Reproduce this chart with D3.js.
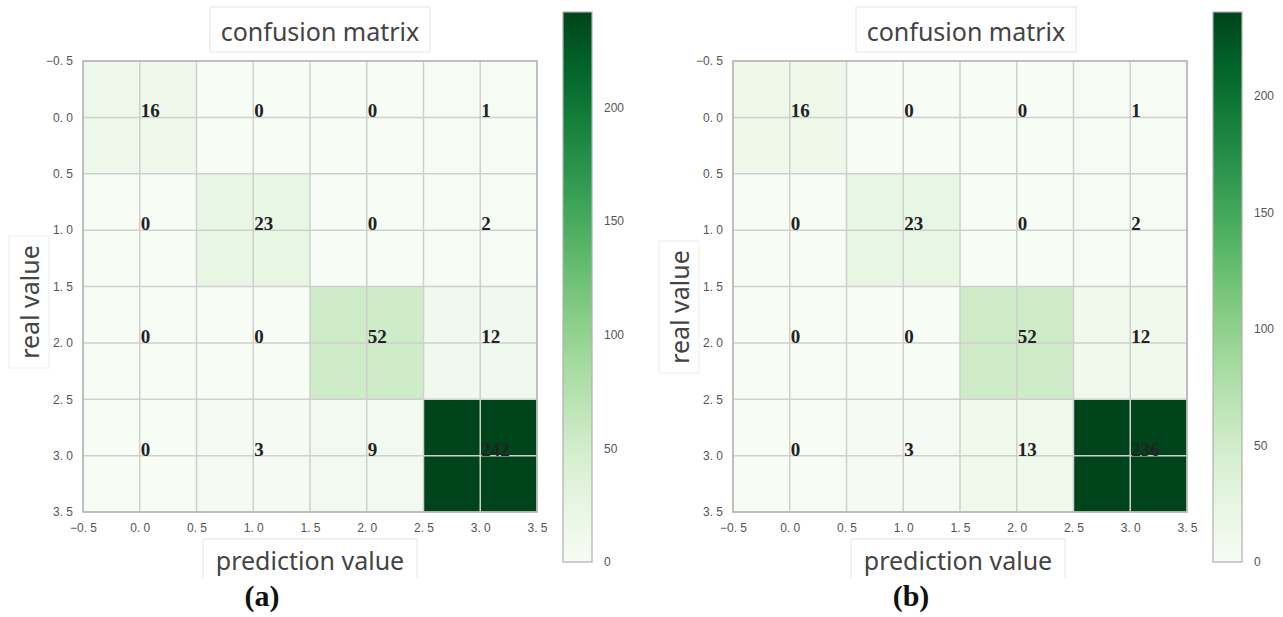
<!DOCTYPE html>
<html><head><meta charset="utf-8">
<script src="https://cdn.jsdelivr.net/npm/d3@7"></script>
<style>body{margin:0;background:#fff}</style>
</head><body>
<svg id="c" width="1283" height="617"></svg>
<script>
const labels = ["0", "1", "2", "3"];
const matrixA = [[16,0,0,1],[0,23,0,2],[0,0,52,12],[0,3,9,242]];
const matrixB = [[16,0,0,1],[0,23,0,2],[0,0,52,12],[0,3,13,236]];
const tickValues = [-0.5,0,0.5,1,1.5,2,2.5,3,3.5];
const cbTicks = [0,50,100,150,200];
const panelLabels = ["(a)", "(b)"];

const svg = d3.select("#c");
const panels = [
  {m: matrixA, x0: 83, x1: 537, cbx: 563, lab: panelLabels[0], tx: 320, yl: 30, yly: 302, px: 310, plx: 262},
  {m: matrixB, x0: 733, x1: 1187, cbx: 1213, lab: panelLabels[1], tx: 966, yl: 680, yly: 307, px: 958, plx: 911}
];
const y0 = 61, y1 = 512;
const fmt = v => d3.format(".1f")(v).replace("-", "\u2212").replace(".", ". ");

panels.forEach((p, pi) => {
  const g = svg.append("g");
  const vmax = d3.max(p.m.flat());
  const color = d3.scaleSequential(d3.interpolateGreens).domain([0, vmax]);
  const x = d3.scaleLinear().domain([-0.5, 3.5]).range([p.x0, p.x1]);
  const y = d3.scaleLinear().domain([-0.5, 3.5]).range([y0, y1]);
  const cells = [];
  p.m.forEach((row, i) => row.forEach((v, j) => cells.push({i, j, v})));
  g.selectAll("rect.cell").data(cells).join("rect")
    .attr("x", d => x(d.j - 0.5)).attr("y", d => y(d.i - 0.5))
    .attr("width", x(0.5) - x(-0.5)).attr("height", y(0.5) - y(-0.5))
    .attr("fill", d => color(d.v));
  g.selectAll("line.gx").data(tickValues).join("line")
    .attr("x1", d => x(d)).attr("x2", d => x(d)).attr("y1", y0).attr("y2", y1)
    .attr("stroke", "#cfcfcf").attr("stroke-width", 1.5);
  g.selectAll("line.gy").data(tickValues).join("line")
    .attr("y1", d => y(d)).attr("y2", d => y(d)).attr("x1", p.x0).attr("x2", p.x1)
    .attr("stroke", "#cfcfcf").attr("stroke-width", 1.5);
  g.append("rect").attr("x", p.x0).attr("y", y0).attr("width", p.x1 - p.x0).attr("height", y1 - y0)
    .attr("fill", "none").attr("stroke", "#b5b5b5").attr("stroke-width", 1.5);
  g.selectAll("text.val").data(cells).join("text")
    .attr("x", d => x(d.j) + 1).attr("y", d => y(d.i))
    .attr("font-family", "Liberation Serif, Times New Roman, serif")
    .attr("font-weight", "bold").attr("font-size", 19).attr("fill", "#222")
    .text(d => d.v);
  const ax = d3.axisBottom(x).tickValues(tickValues).tickSize(0).tickPadding(11).tickFormat(fmt);
  const gx = g.append("g").attr("transform", `translate(0,${y1})`).call(ax);
  gx.select(".domain").remove();
  const ay = d3.axisLeft(y).tickValues(tickValues).tickSize(0).tickPadding(10).tickFormat(fmt);
  const gy = g.append("g").attr("transform", `translate(${p.x0},0)`).call(ay);
  gy.select(".domain").remove();
  g.selectAll(".tick text").attr("font-family", "Liberation Sans, Arial, sans-serif")
    .attr("font-size", 12).attr("fill", "#555");
  const cbTop = 12, cbBot = 562, cbW = 29;
  const cy = d3.scaleLinear().domain([0, vmax]).range([cbBot, cbTop]);
  const gradId = "grad" + pi;
  const grad = svg.append("defs").append("linearGradient").attr("id", gradId)
    .attr("x1", 0).attr("x2", 0).attr("y1", 1).attr("y2", 0);
  d3.range(0, 1.0001, 0.05).forEach(t => grad.append("stop").attr("offset", t).attr("stop-color", color(t * vmax)));
  g.append("rect").attr("x", p.cbx).attr("y", cbTop).attr("width", cbW).attr("height", cbBot - cbTop)
    .attr("fill", `url(#${gradId})`).attr("stroke", "#b0b0b0").attr("stroke-width", 1.2);
  const ac = d3.axisRight(cy).tickValues(cbTicks).tickSize(0).tickPadding(12);
  const gc = g.append("g").attr("transform", `translate(${p.cbx + cbW},0)`).call(ac);
  gc.select(".domain").remove();
  gc.selectAll("text").attr("font-family", "Liberation Sans, Arial, sans-serif").attr("font-size", 12).attr("fill", "#555");
  g.append("rect").attr("x", p.tx - 110).attr("y", 7).attr("width", 220).attr("height", 45)
    .attr("fill", "#fff").attr("stroke", "#e4e4e4");
  g.append("text").attr("x", p.tx).attr("y", 41).attr("text-anchor", "middle")
    .attr("font-family", "Noto Sans, Open Sans, sans-serif").attr("font-size", 25).attr("fill", "#444")
    .text("confusion matrix");
  g.append("rect").attr("x", p.yl - 21).attr("y", p.yly - 66).attr("width", 40).attr("height", 132)
    .attr("fill", "#fff").attr("stroke", "#eeeeee");
  g.append("text").attr("transform", `translate(${p.yl + 9},${p.yly}) rotate(-90)`).attr("text-anchor", "middle")
    .attr("font-family", "Noto Sans, Open Sans, sans-serif").attr("font-size", 25).attr("fill", "#444")
    .text("real value");
  g.append("path").attr("d", `M${p.px - 107},578 V539 H${p.px + 107} V578`)
    .attr("fill", "#fff").attr("stroke", "#e4e4e4");
  g.append("text").attr("x", p.px).attr("y", 570).attr("text-anchor", "middle")
    .attr("font-family", "Noto Sans, Open Sans, sans-serif").attr("font-size", 25).attr("fill", "#444")
    .text("prediction value");
  g.append("text").attr("x", p.plx).attr("y", 606).attr("text-anchor", "middle")
    .attr("font-family", "Liberation Serif, Times New Roman, serif").attr("font-weight", "bold")
    .attr("font-size", 30).attr("fill", "#111").text(p.lab);
});
</script>
</body></html>
